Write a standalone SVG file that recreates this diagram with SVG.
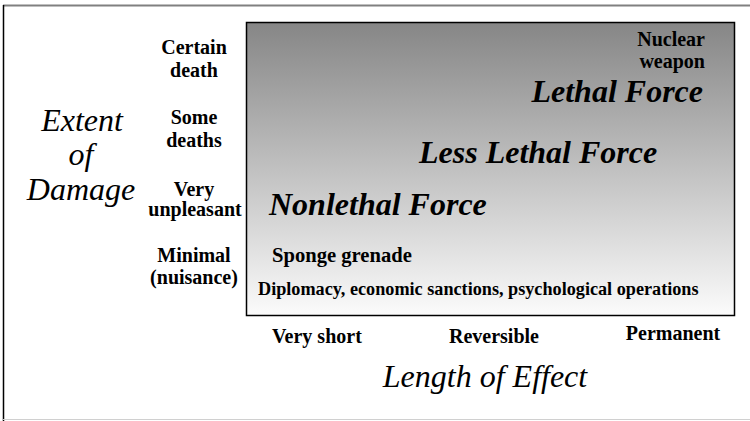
<svg xmlns="http://www.w3.org/2000/svg" width="750" height="421" viewBox="0 0 750 421">
<defs>
<linearGradient id="g" x1="0" y1="0" x2="0" y2="1">
<stop offset="0" stop-color="#868686"/>
<stop offset="1" stop-color="#fbfbfb"/>
</linearGradient>
</defs>
<style>
.lb{font-family:"Liberation Serif",serif;font-weight:bold;font-size:20px;fill:#000}
.dp{font-size:18.2px}
.sp{font-size:20.6px}
.ax{font-family:"Liberation Serif",serif;font-style:italic;font-size:32px;fill:#000}
.fc{font-family:"Liberation Serif",serif;font-style:italic;font-weight:bold;font-size:32px;fill:#000}
</style>
<rect x="0" y="0" width="750" height="421" fill="#fff"/>
<line x1="3" y1="5.5" x2="750" y2="5.5" stroke="#808080" stroke-width="2"/>
<line x1="3.5" y1="5" x2="3.5" y2="421" stroke="#000" stroke-width="1.5"/>
<line x1="3" y1="419.5" x2="750" y2="419.5" stroke="#d0d0d0" stroke-width="1"/>
<g id="chart">
<rect x="246.5" y="22.5" width="488" height="293" fill="url(#g)" stroke="#000" stroke-width="1.5"/>
</g>
<g id="y-axis">
<text class="ax" text-anchor="middle" x="82" y="131">Extent</text>
<text class="ax" text-anchor="middle" x="81" y="165">of</text>
<text class="ax" text-anchor="middle" x="81" y="200">Damage</text>
</g>
<g id="y-labels" text-anchor="middle">
<text class="lb" x="194" y="54">Certain</text>
<text class="lb" x="194" y="77">death</text>
<text class="lb" x="194" y="124">Some</text>
<text class="lb" x="194" y="147">deaths</text>
<text class="lb" x="194" y="196">Very</text>
<text class="lb" x="195" y="216">unpleasant</text>
<text class="lb" x="194" y="262">Minimal</text>
<text class="lb" x="194" y="284">(nuisance)</text>
</g>
<g id="nuclear" text-anchor="end">
<text class="lb" x="705" y="46">Nuclear</text>
<text class="lb" x="705" y="68">weapon</text>
</g>
<g id="lethal"><text class="fc" text-anchor="end" x="703" y="102">Lethal Force</text></g>
<g id="less-lethal"><text class="fc" x="419" y="163">Less Lethal Force</text></g>
<g id="nonlethal"><text class="fc" x="269" y="215">Nonlethal Force</text></g>
<g id="sponge"><text class="lb sp" x="272" y="262">Sponge grenade</text></g>
<g id="diplomacy"><text class="lb dp" x="258" y="295">Diplomacy, economic sanctions, psychological operations</text></g>
<g id="x-labels">
<text class="lb" x="272" y="343">Very short</text>
<text class="lb" text-anchor="middle" x="494" y="343">Reversible</text>
<text class="lb" text-anchor="middle" x="673" y="340">Permanent</text>
</g>
<g id="x-axis"><text class="ax" text-anchor="middle" x="485" y="387">Length of Effect</text></g>
</svg>
